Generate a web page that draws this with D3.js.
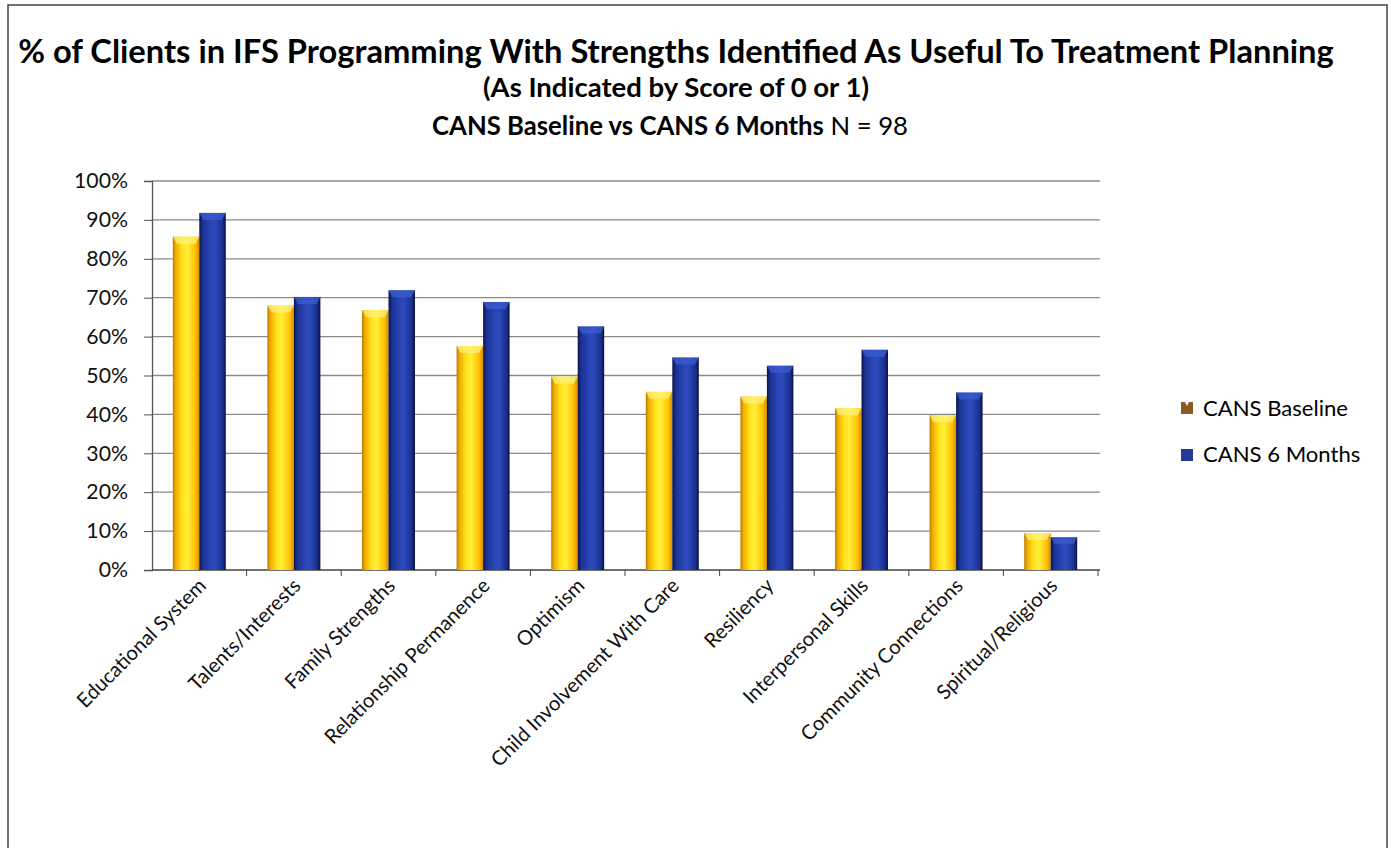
<!DOCTYPE html>
<html>
<head>
<meta charset="utf-8">
<script src="https://cdn.jsdelivr.net/npm/d3@7"></script>
<style>
  body { margin: 0; background: #fff; }
  text { font-family: Lato, "Open Sans", sans-serif; }
</style>
</head>
<body>
<script>
// chart data
const categories = ['Educational System', 'Talents/Interests', 'Family Strengths', 'Relationship Permanence',
  'Optimism', 'Child Involvement With Care', 'Resiliency', 'Interpersonal Skills',
  'Community Connections', 'Spiritual/Religious']
const seriesNames = ['CANS Baseline', 'CANS 6 Months']
const baseline = [0.857, 0.680, 0.668, 0.576, 0.497, 0.458, 0.446, 0.416, 0.398, 0.095]
const sixMonths = [0.918, 0.702, 0.719, 0.689, 0.626, 0.546, 0.525, 0.566, 0.456, 0.084]
const yTicks = [0, 0.1, 0.2, 0.3, 0.4, 0.5, 0.6, 0.7, 0.8, 0.9, 1]

const W = 1391, H = 848

var svg = d3.select('body').append('svg')
  .attr('width', W)
  .attr('height', H)

// gradients for the fake 3d look
var defs = svg.append('defs')
function grad(id, stops) {
  var g = defs.append('linearGradient').attr('id', id)
    .attr('x1', '0%').attr('x2', '100%').attr('y1', '0%').attr('y2', '0%')
  stops.forEach(s => g.append('stop').attr('offset', s[0]).attr('stop-color', s[1]))
}
grad('g-yellow', [['0%', '#b87800'], ['10%', '#f0a800'], ['35%', '#ffe21a'], ['55%', '#ffef3a'], ['85%', '#ffc000'], ['100%', '#d88c00']])
grad('g-blue', [['0%', '#0a154d'], ['14%', '#1c3294'], ['45%', '#2a48b8'], ['60%', '#2c4abb'], ['88%', '#1a2f8e'], ['100%', '#08113c']])

// frame
svg.append('rect')
  .attr('x', 8).attr('y', 5)
  .attr('width', 1379).attr('height', H + 10)
  .attr('fill', 'none')
  .attr('stroke', '#444')
  .attr('stroke-width', 1.5)

// scale the font so the text gets the width seen in the picture
function fitText(sel, target) {
  var w = sel.node().getComputedTextLength()
  var fs = parseFloat(sel.attr('font-size'))
  sel.attr('font-size', (fs * target / w).toFixed(2) + 'px')
}
var t1 = svg.append('text')
  .attr('x', 676).attr('y', 63)
  .attr('text-anchor', 'middle')
  .attr('font-weight', 'bold')
  .attr('font-size', '28px')
  .attr('fill', '#000')
  .text('% of Clients in IFS Programming With Strengths Identified As Useful To Treatment Planning')
fitText(t1, 1316)

var t2 = svg.append('text')
  .attr('x', 676).attr('y', 97)
  .attr('text-anchor', 'middle')
  .attr('font-weight', 'bold')
  .attr('font-size', '19px')
  .text('(As Indicated by Score of 0 or 1)')
fitText(t2, 386)

var t3 = svg.append('text')
  .attr('x', 670).attr('y', 135)
  .attr('text-anchor', 'middle')
  .attr('font-size', '19px')
t3.append('tspan').attr('font-weight', 'bold').text('CANS Baseline vs CANS 6 Months')
t3.append('tspan').text('  N = 98')
fitText(t3, 476)

// scales
var x = d3.scaleBand()
  .domain(categories)
  .range([152, 1098])
  .paddingInner(0.44)
  .paddingOuter(0.22)

var xs = d3.scaleBand()
  .domain(seriesNames)
  .range([0, x.bandwidth()])

var y = d3.scaleLinear()
  .domain([0, 1])
  .range([570, 181])

// gridlines
svg.append('g')
  .selectAll('line')
  .data(yTicks.slice(1))
  .enter()
  .append('line')
  .attr('x1', 152).attr('x2', 1100)
  .attr('y1', d => y(d)).attr('y2', d => y(d))
  .attr('stroke', '#8a8a8a')
  .attr('stroke-width', 1.3)

// y axis
var yAxis = svg.append('g')
  .attr('transform', 'translate(152,0)')
  .call(d3.axisLeft(y).tickValues(yTicks).tickFormat(d3.format('.0%')).tickSize(8).tickPadding(16))
yAxis.select('.domain').attr('stroke', '#555').attr('stroke-width', 1.3)
yAxis.selectAll('.tick line').attr('stroke', '#555')
yAxis.selectAll('text')
  .attr('font-size', '21.5px')
  .attr('fill', '#111')
  .style('font-family', 'Lato, sans-serif')
fitText(yAxis.selectAll('text').filter(d => d === 1), 54)
yAxis.selectAll('text').attr('font-size', yAxis.selectAll('text').filter(d => d === 1).attr('font-size'))

// x axis with ticks between categories
var xAxis = svg.append('g')
  .attr('transform', 'translate(0,' + y(0) + ')')
xAxis.append('line')
  .attr('x1', 152).attr('x2', 1100)
  .attr('stroke', '#444').attr('stroke-width', 1.5)
xAxis.selectAll('.sep')
  .data(categories)
  .enter()
  .append('line')
  .attr('class', 'sep')
  .attr('x1', d => x(d) + x.bandwidth() + x.step() * x.paddingInner() / 2)
  .attr('x2', d => x(d) + x.bandwidth() + x.step() * x.paddingInner() / 2)
  .attr('y1', 0).attr('y2', 6)
  .attr('stroke', '#444')

var labels = xAxis.selectAll('.lbl')
  .data(categories)
  .enter()
  .append('text')
  .attr('class', 'lbl')
  .attr('text-anchor', 'end')
  .attr('font-size', '20px')
  .attr('fill', '#111')
  .attr('transform', d => 'translate(' + (x(d) + x.bandwidth() / 2 + 8) + ',17) rotate(-45)')
  .text(d => d)
var child = labels.filter(d => d === 'Child Involvement With Care')
fitText(child, 256)
labels.attr('font-size', child.attr('font-size'))

// bars
var rows = categories.map((c, i) => ({cat: c, vals: [baseline[i], sixMonths[i]]}))
var fills = ['url(#g-yellow)', 'url(#g-blue)']
var tops = ['#fff27a', '#3b5cd0']
var bars = svg.append('g')
rows.forEach(function(r) {
  r.vals.forEach(function(v, j) {
    var bx = x(r.cat) + xs(seriesNames[j])
    var bw = xs.bandwidth()
    var by = y(v)
    bars.append('rect')
      .attr('x', bx).attr('y', by)
      .attr('width', bw).attr('height', y(0) - by)
      .attr('fill', fills[j])
    // small bevel at the top
    var bev = Math.min(7, (y(0) - by) / 2)
    bars.append('path')
      .attr('d', 'M' + bx + ',' + by + 'L' + (bx + bw) + ',' + by +
        'L' + (bx + bw - 4) + ',' + (by + bev) + 'L' + (bx + 4) + ',' + (by + bev) + 'Z')
      .attr('fill', tops[j])
      .attr('opacity', 0.75)
  })
})

// legend
var legend = svg.append('g')
  .attr('transform', 'translate(1181,0)')
legend.append('path')
  .attr('d', 'M0,402 L4,402 L6,406 L8,402 L12,402 L12,414 L0,414 Z')
  .attr('fill', '#8a5a22')
var l1 = legend.append('text')
  .attr('x', 22).attr('y', 416)
  .attr('font-size', '21px')
  .text(seriesNames[0])
fitText(l1, 145)
legend.append('rect')
  .attr('x', 0).attr('y', 449)
  .attr('width', 12).attr('height', 12)
  .attr('fill', '#23399a')
legend.append('text')
  .attr('x', 22).attr('y', 462)
  .attr('font-size', l1.attr('font-size'))
  .text(seriesNames[1])
</script>
</body>
</html>
